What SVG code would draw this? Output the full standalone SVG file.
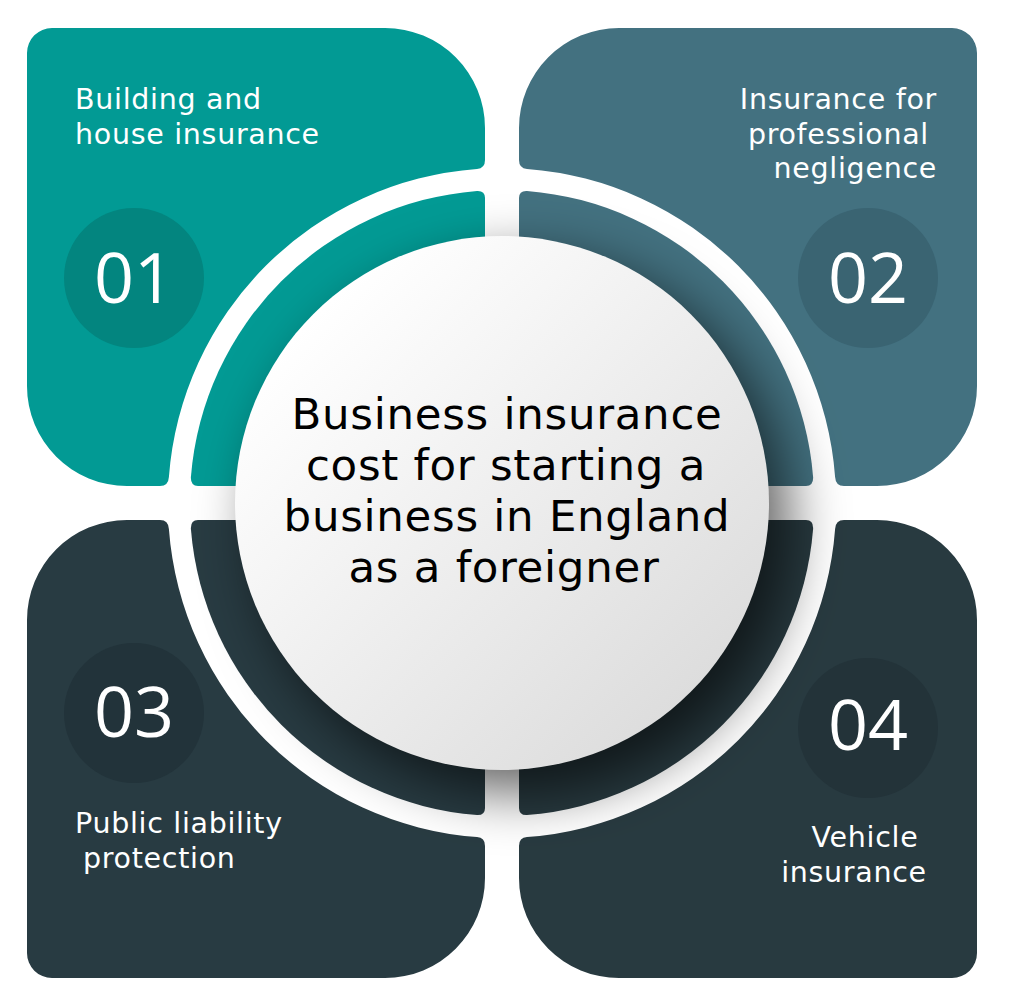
<svg xmlns="http://www.w3.org/2000/svg" xmlns:xlink="http://www.w3.org/1999/xlink" width="1024" height="1001" viewBox="0 0 1024 1001">
<style>
.lbl{font-family:"DejaVu Sans","Liberation Sans",sans-serif;font-size:28.5px;fill:#ffffff;letter-spacing:0.7px}
.num{font-family:"Open Sans","Liberation Sans",sans-serif;font-size:70px;font-weight:500;fill:#ffffff;text-anchor:middle}
.title{font-family:"DejaVu Sans","Liberation Sans",sans-serif;font-size:43.5px;fill:#000000;text-anchor:middle;letter-spacing:0.7px}
</style>
<defs>
<path id="q" d="M52 28 H385 A100 100 0 0 1 485 128 V160 Q485 168.4 477 168.9 A334 334 0 0 0 168.9 477 Q168.4 486 160 486 H127 A100 100 0 0 1 27 386 V53 A25 25 0 0 1 52 28 Z"/>
<path id="b" d="M485 198 Q485 190.5 477 190.9 A312 312 0 0 0 190.9 477 Q190.4 486 198 486 H485 Z"/>
<filter id="sh" x="-40%" y="-40%" width="180%" height="180%">
<feGaussianBlur stdDeviation="28"/>
<feOffset dx="20" dy="22"/>
</filter>
<linearGradient id="cg" x1="0" y1="0" x2="1" y2="1">
<stop offset="0.15" stop-color="#ffffff"/>
<stop offset="1" stop-color="#d6d6d6"/>
</linearGradient>
</defs>
<rect width="1024" height="1001" fill="#ffffff"/>
<g id="node-01">
<use xlink:href="#q" fill="#029A94"/>
<use xlink:href="#b" fill="#029A94"/>
<circle cx="134" cy="278" r="70" fill="#03857F"/>
<text class="num" x="134" y="303">01</text>
<text class="lbl" x="75" y="109">Building and</text>
<text class="lbl" x="75" y="144">house insurance</text>
</g>
<g id="node-02">
<use xlink:href="#q" transform="matrix(-1 0 0 1 1004 0)" fill="#437180"/>
<use xlink:href="#b" transform="matrix(-1 0 0 1 1004 0)" fill="#437180"/>
<circle cx="868" cy="278" r="70" fill="#3A6472"/>
<text class="num" x="868" y="303">02</text>
<text class="lbl" x="937" y="109" text-anchor="end">Insurance for</text>
<text class="lbl" x="929" y="144" text-anchor="end">professional</text>
<text class="lbl" x="937" y="178" text-anchor="end">negligence</text>
</g>
<g id="node-03">
<use xlink:href="#q" transform="matrix(1 0 0 -1 0 1006)" fill="#283B42"/>
<use xlink:href="#b" transform="matrix(1 0 0 -1 0 1006)" fill="#283B42"/>
<circle cx="134" cy="713" r="70" fill="#22333A"/>
<text class="num" x="134" y="737">03</text>
<text class="lbl" x="75" y="833">Public liability</text>
<text class="lbl" x="83" y="868">protection</text>
</g>
<g id="node-04">
<use xlink:href="#q" transform="matrix(-1 0 0 -1 1004 1006)" fill="#283A40"/>
<use xlink:href="#b" transform="matrix(-1 0 0 -1 1004 1006)" fill="#283A40"/>
<circle cx="868" cy="728" r="70" fill="#233339"/>
<text class="num" x="868" y="750">04</text>
<text class="lbl" x="865" y="847" text-anchor="middle">Vehicle</text>
<text class="lbl" x="854" y="882" text-anchor="middle">insurance</text>
</g>
<g id="node-center">
<circle cx="502" cy="503" r="267" fill="#000000" fill-opacity="0.62" filter="url(#sh)"/>
<circle cx="502" cy="503" r="267" fill="url(#cg)"/>
<text class="title" x="507" y="429">Business insurance</text>
<text class="title" x="506" y="480">cost for starting a</text>
<text class="title" x="507" y="531">business in England</text>
<text class="title" x="504" y="582">as a foreigner</text>
</g>
</svg>
